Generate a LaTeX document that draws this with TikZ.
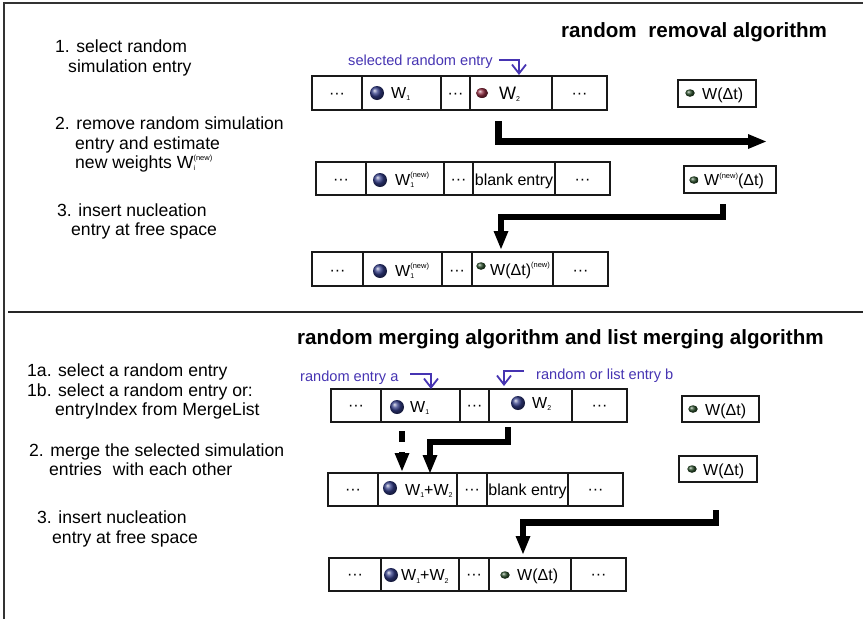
\documentclass[tikz,border=0pt]{standalone}
\usepackage{fontspec}
\setmainfont{Liberation Sans}
\usetikzlibrary{arrows.meta,shapes.geometric}

\definecolor{labelblue}{RGB}{70,52,178}
\definecolor{ballblue}{RGB}{50,60,135}
\definecolor{ballred}{RGB}{145,45,65}
\definecolor{ballgreen}{RGB}{45,80,45}

% font size helper, small sub/superscripts for the weights
\newcommand\fs[1]{\fontsize{#1}{#1}\selectfont}
\newcommand\lo[1]{\raisebox{-2.5pt}{\fs{7}#1}}
\newcommand\hi[1]{\raisebox{7.5pt}{\fs{7.5}#1}}
\newcommand\losup[2]{\rlap{\lo{#1}}\hi{#2}}

% one cell of an entry list: name, x0, x1, y0, y1
\newcommand\cellbox[5]{%
  \node[cell,minimum width={(#3-#2)*1pt},minimum height={(#5-#4)*1pt}]
    (#1) at ({(#2+#3)/2},{(#4+#5)/2}) {};}

\begin{document}
\begin{tikzpicture}[x=1pt,y=-1pt,
  frame/.style={draw=black!80,line width=1.3pt},
  cell/.style={draw=black!90,line width=1.4pt,rectangle,inner sep=0pt},
  steptext/.style={inner sep=0pt,anchor=base west,font=\fs{17.6}},
  title/.style={inner sep=0pt,anchor=base west,font=\fs{20.6}\bfseries},
  bluelabel/.style={inner sep=0pt,anchor=base west,text=labelblue,font=\fs{14.6}},
  ctext/.style={inner sep=0pt,anchor=base west,font=\fs{16}},
  dots/.style={inner sep=0pt,anchor=base,font=\fs{16}},
  bball/.style={circle,inner sep=0pt,minimum size=14pt,ball color=ballblue},
  rball/.style={ellipse,inner sep=0pt,minimum width=12pt,minimum height=10pt,ball color=ballred},
  gball/.style={ellipse,inner sep=0pt,minimum width=9.5pt,minimum height=7.5pt,ball color=ballgreen},
  bigarrow/.style={line width=6.5pt,line join=miter,
    -{Triangle[length=18pt,width=15pt,line width=0pt]}},
  dasharrow/.style={bigarrow,dash pattern=on 11pt off 10pt},
  bluearrow/.style={draw=labelblue,line width=1.8pt,line join=miter,
    -{Straight Barb[length=9pt,width=14pt,line width=1.8pt]}}]

\useasboundingbox (0,0) rectangle (863,619);

% outer frame and section separator
\draw[frame] (863,3) -- (4,3) -- (4,619);
\draw[draw=black!85,line width=1.8pt] (8,312) -- (863,312);

% ---------------- random removal algorithm ----------------
\node[title] (title1) at (561,37) {random\hspace{6pt} removal algorithm};

\node[steptext] (s1a) at (55,52.3) {1. select random};
\node[steptext] (s1b) at (68,72.3) {simulation entry};
\node[steptext] (s2a) at (55,129.3) {2. remove random simulation};
\node[steptext] (s2b) at (75,149.3) {entry and estimate};
\node[steptext] (s2c) at (75,168.3) {new weights W\losup{i}{(new)}};
\node[steptext] (s3a) at (57,216) {3. insert nucleation};
\node[steptext] (s3b) at (71,235.3) {entry at free space};

% row 1: list before removal
\cellbox{r1c1}{312}{362}{76}{110}
\cellbox{r1c2}{362}{441}{76}{110}
\cellbox{r1c3}{441}{470}{76}{110}
\cellbox{r1c4}{470}{552}{76}{110}
\cellbox{r1c5}{552}{607}{76}{110}
\node[dots] (r1t1) at (337,98) {···};
\node[bball] (r1b2) at (377,93) {};
\node[ctext] (r1t2) at (391,98) {W\lo{1}};
\node[dots] (r1t3) at (455.5,98) {···};
\node[rball] (r1b4) at (482,93) {};
\node[ctext,font=\fs{18}] (r1t4) at (499,99) {W\lo{2}};
\node[dots] (r1t5) at (579.5,98) {···};

\node[cell,minimum width=78pt,minimum height=27pt] (nuc1) at (717,93.5) {};
\node[gball] (nuc1b) at (690,93) {};
\node[ctext] (nuc1t) at (702,99.5) {W(Δt)};

\node[bluelabel] (lab1) at (348,65) {selected random entry};
\coordinate (lab1s) at (499,60);
\coordinate (lab1e) at (519,75);
\draw[bluearrow] (lab1s) -| (lab1e);

% row 2: list after removal
\cellbox{r2c1}{316}{366}{162}{195}
\cellbox{r2c2}{366}{444}{162}{195}
\cellbox{r2c3}{444}{473}{162}{195}
\cellbox{r2c4}{473}{555}{162}{195}
\cellbox{r2c5}{555}{610}{162}{195}
\node[dots] (r2t1) at (341,184) {···};
\node[bball] (r2b2) at (380,180) {};
\node[ctext] (r2t2) at (395,185) {W\losup{1}{(new)}};
\node[dots] (r2t3) at (458.5,184) {···};
\node[dots] (r2t4) at (514,185) {blank entry};
\node[dots] (r2t5) at (582.5,184) {···};

\node[cell,minimum width=92pt,minimum height=27pt] (nuc2) at (730,179.5) {};
\node[gball] (nuc2b) at (694,180) {};
\node[ctext] (nuc2t) at (704,185.5) {W\hi{(new)}(Δt)};

% row 3: list after insertion
\cellbox{r3c1}{312}{363}{252}{286}
\cellbox{r3c2}{363}{442}{252}{286}
\cellbox{r3c3}{442}{472}{252}{286}
\cellbox{r3c4}{472}{553}{252}{286}
\cellbox{r3c5}{553}{608}{252}{286}
\node[dots] (r3t1) at (337.5,275) {···};
\node[bball] (r3b2) at (380,271) {};
\node[ctext] (r3t2) at (395,276) {W\losup{1}{(new)}};
\node[dots] (r3t3) at (457,275) {···};
\node[gball] (r3b4) at (481,266) {};
\node[ctext] (r3t4) at (490,275) {W(Δt)\hi{(new)}};
\node[dots] (r3t5) at (580.5,275) {···};

% thick flow arrows
\coordinate (a1s) at (498.5,121);
\coordinate (a1e) at (766,141.5);
\draw[bigarrow] (a1s) |- (a1e);
\coordinate (a2s) at (723,204);
\coordinate (a2m) at (501,217);
\coordinate (a2e) at (501,249);
\draw[bigarrow] (a2s) |- (a2m) -- (a2e);

% ---------------- random merging algorithm ----------------
\node[title] (title2) at (297,344) {random merging algorithm and list merging algorithm};

\node[steptext] (m1a) at (27,376.5) {1a. select a random entry};
\node[steptext] (m1b) at (27,396) {1b. select a random entry or:};
\node[steptext] (m1c) at (55,415.3) {entryIndex from MergeList};
\node[steptext] (m2a) at (29,456) {2. merge the selected simulation};
\node[steptext] (m2b) at (49,475) {entries\hspace{6pt} with each other};
\node[steptext] (m3a) at (37,523) {3. insert nucleation};
\node[steptext] (m3b) at (52,543) {entry at free space};

% row B1: list before merging
\cellbox{b1c1}{331}{381}{389}{422}
\cellbox{b1c2}{381}{460}{389}{422}
\cellbox{b1c3}{460}{489}{389}{422}
\cellbox{b1c4}{489}{572}{389}{422}
\cellbox{b1c5}{572}{627}{389}{422}
\node[dots] (b1t1) at (356,410.5) {···};
\node[bball] (b1b2) at (397,407) {};
\node[ctext] (b1t2) at (410,412) {W\lo{1}};
\node[dots] (b1t3) at (474.5,410.5) {···};
\node[bball] (b1b4) at (518,403) {};
\node[ctext] (b1t4) at (532,408) {W\lo{2}};
\node[dots] (b1t5) at (599.5,410.5) {···};

\node[cell,minimum width=77pt,minimum height=26pt] (nuc3) at (720.5,409) {};
\node[gball] (nuc3b) at (693,409) {};
\node[ctext] (nuc3t) at (705,415) {W(Δt)};

\node[bluelabel] (laba) at (300,381) {random entry a};
\coordinate (labas) at (410,374);
\coordinate (labae) at (431,389);
\draw[bluearrow] (labas) -| (labae);

\node[bluelabel] (labb) at (536,379) {random or list entry b};
\coordinate (labbs) at (524,371);
\coordinate (labbe) at (504,386);
\draw[bluearrow] (labbs) -| (labbe);

% row B2: list after merging
\cellbox{b2c1}{328}{378}{473}{506}
\cellbox{b2c2}{378}{457}{473}{506}
\cellbox{b2c3}{457}{487}{473}{506}
\cellbox{b2c4}{487}{568}{473}{506}
\cellbox{b2c5}{568}{623}{473}{506}
\node[dots] (b2t1) at (353,494.5) {···};
\node[bball] (b2b2) at (390,488) {};
\node[ctext] (b2t2) at (405,495) {W\lo{1}+W\lo{2}};
\node[dots] (b2t3) at (472,494.5) {···};
\node[dots] (b2t4) at (527.5,495) {blank entry};
\node[dots] (b2t5) at (595.5,494.5) {···};

\node[cell,minimum width=78pt,minimum height=26pt] (nuc4) at (718,469) {};
\node[gball] (nuc4b) at (692,469) {};
\node[ctext] (nuc4t) at (703,475) {W(Δt)};

% row B3: list after insertion
\cellbox{b3c1}{329}{381}{558}{591}
\cellbox{b3c2}{381}{459}{558}{591}
\cellbox{b3c3}{459}{489}{558}{591}
\cellbox{b3c4}{489}{571}{558}{591}
\cellbox{b3c5}{571}{626}{558}{591}
\node[dots] (b3t1) at (355,579.5) {···};
\node[bball] (b3b2) at (391,575) {};
\node[ctext] (b3t2) at (401,580.5) {W\lo{1}+W\lo{2}};
\node[dots] (b3t3) at (474,579.5) {···};
\node[gball] (b3b4) at (505,575) {};
\node[ctext] (b3t4) at (517,580.5) {W(Δt)};
\node[dots] (b3t5) at (598.5,579.5) {···};

% merging and insertion arrows
\coordinate (d1s) at (402,431);
\coordinate (d1e) at (402,471);
\draw[dasharrow] (d1s) -- (d1e);
\coordinate (m1s) at (508,427);
\coordinate (m1m) at (430,442);
\coordinate (m1e) at (430,473);
\draw[bigarrow] (m1s) |- (m1m) -- (m1e);
\coordinate (i1s) at (716,510);
\coordinate (i1m) at (523,522.5);
\coordinate (i1e) at (523,554);
\draw[bigarrow] (i1s) |- (i1m) -- (i1e);
\end{tikzpicture}
\end{document}
